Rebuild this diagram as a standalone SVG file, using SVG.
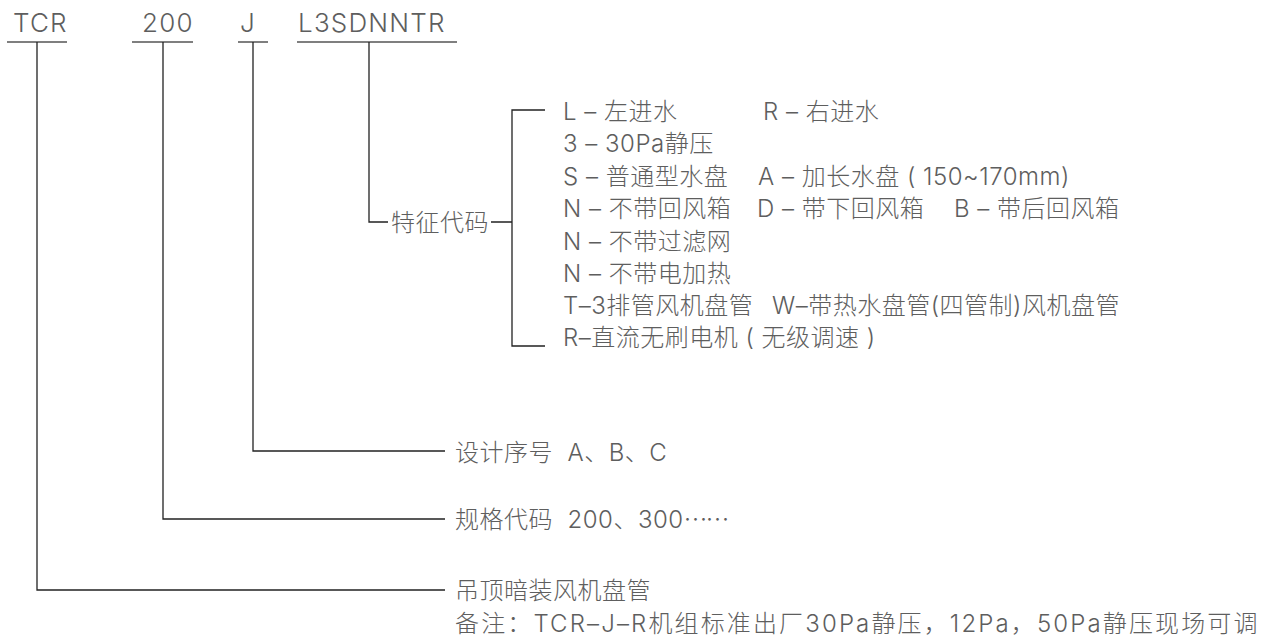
<svg xmlns="http://www.w3.org/2000/svg" width="1262" height="641" viewBox="0 0 1262 641">
<style>
text{font-family:Inter,"Noto Sans CJK SC",sans-serif;font-weight:300;fill:#5e5e5e;font-size:24px;letter-spacing:0.5px}
.h{font-size:26px;letter-spacing:1.2px}
.cjk{font-family:"Noto Sans CJK SC",sans-serif;letter-spacing:-2px}
.ul{stroke:#555;stroke-width:1.3;fill:none}
.ln{stroke:#222;stroke-width:1.3;fill:none}
</style>
<rect width="1262" height="641" fill="#fff"/>
<g id="header">
<text class="h" x="13" y="32">TCR</text>
<text class="h" x="142" y="32">200</text>
<text class="h" x="240" y="32">J</text>
<text class="h" x="298" y="32">L3SDNNTR</text>
<path class="ul" d="M7 42H67M132 42H193M238 42H268M297 42H457"/>
</g>
<g id="connectors">
<path class="ln" d="M37 42V590H445"/>
<path class="ln" d="M163 42V519H445"/>
<path class="ln" d="M253 42V451H445"/>
<path class="ln" d="M369 42V222H388"/>
<path class="ln" d="M491 222H512M545 110H512V346H545"/>
</g>
<g id="feature">
<text x="391" y="231">特征代码</text>
</g>
<g id="options">
<text x="563" y="120">L – 左进水</text>
<text x="763" y="120">R – 右进水</text>
<text x="563" y="152">3 – 30Pa静压</text>
<text x="563" y="185">S – 普通型水盘</text>
<text x="758" y="185">A – 加长水盘 ( 150~170mm)</text>
<text x="563" y="217">N – 不带回风箱</text>
<text x="757" y="217">D – 带下回风箱</text>
<text x="954" y="217">B – 带后回风箱</text>
<text x="563" y="250">N – 不带过滤网</text>
<text x="563" y="282">N – 不带电加热</text>
<text x="563" y="314">T–3排管风机盘管</text>
<text x="772" y="314">W–带热水盘管(四管制)风机盘管</text>
<text x="563" y="346">R–直流无刷电机 ( 无级调速 )</text>
</g>
<g id="design">
<text x="455" y="461">设计序号&#160; A、B、C</text>
</g>
<g id="size">
<text x="455" y="528">规格代码&#160; 200、300<tspan class="cjk">……</tspan></text>
</g>
<g id="type">
<text x="455" y="599">吊顶暗装风机盘管</text>
<text x="455" y="632" textLength="803" lengthAdjust="spacing">备注：TCR–J–R机组标准出厂30Pa静压，12Pa，50Pa静压现场可调</text>
</g>
</svg>
